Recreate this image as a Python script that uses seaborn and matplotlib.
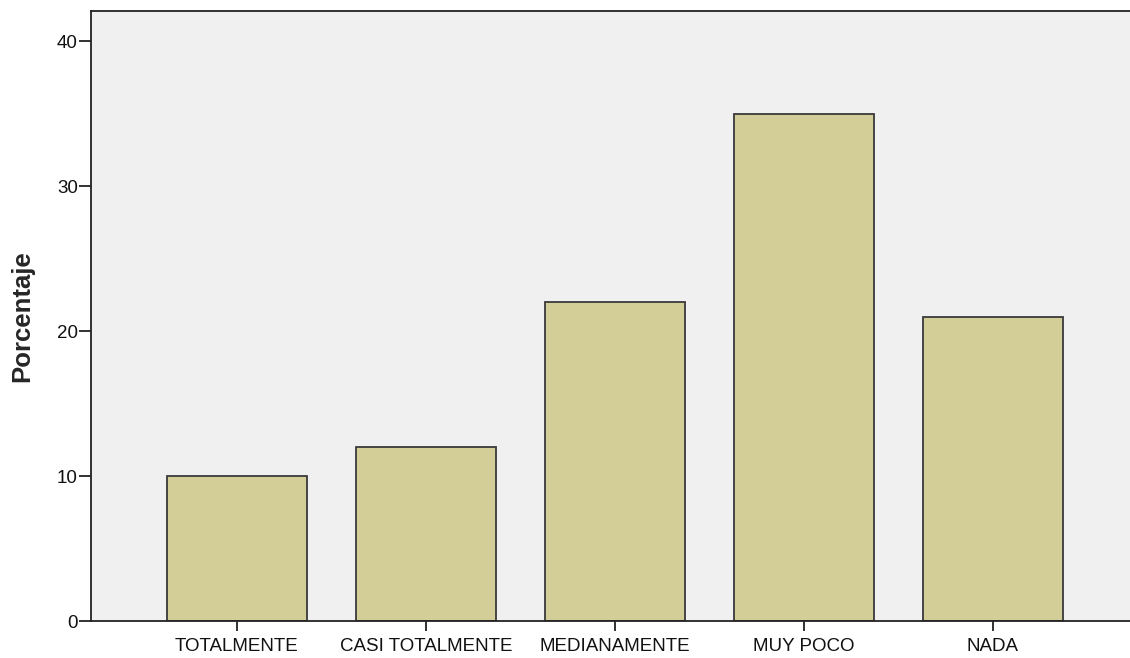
import matplotlib

matplotlib.use("Agg")
import matplotlib.pyplot as plt
import pandas as pd
import seaborn as sns

categories = ["TOTALMENTE", "CASI TOTALMENTE", "MEDIANAMENTE", "MUY POCO", "NADA"]
percentages = [10, 12, 22, 35, 21]
y_ticks = [0, 10, 20, 30, 40]

sns.set_theme(style="white")
plt.rcParams["font.family"] = ["Liberation Sans", "DejaVu Sans"]

df = pd.DataFrame({"categoria": categories, "porcentaje": percentages})

fig = plt.figure(figsize=(11.3, 6.58), dpi=100)
ax = fig.add_axes([0.0805, 0.0562, 0.9195, 0.9271])
ax.set_facecolor("#f0f0f0")

sns.barplot(
    data=df,
    x="categoria",
    y="porcentaje",
    color="#d3ce97",
    saturation=1,
    width=0.74,
    edgecolor="#3a3a3a",
    linewidth=1.3,
    ax=ax,
)

ax.set_xlim(-0.772, 4.725)
ax.set_ylim(0, 42.07)
ax.set_yticks(y_ticks)
ax.set_xlabel("")
ax.set_ylabel("Porcentaje", fontsize=18.5, fontweight="bold", labelpad=16)

for side in ["left", "bottom", "top"]:
    ax.spines[side].set_color("#222222")
    ax.spines[side].set_linewidth(1.3)
ax.spines["right"].set_visible(False)

ax.tick_params(axis="both", which="major", direction="out", width=1.3,
               color="#222222", labelsize=13.5, labelcolor="#111111", pad=1)
ax.tick_params(axis="x", bottom=True, length=7.5, pad=5)
ax.tick_params(axis="y", left=True, length=8.5)

fig.savefig("out.png", dpi=100)
plt.close(fig)
